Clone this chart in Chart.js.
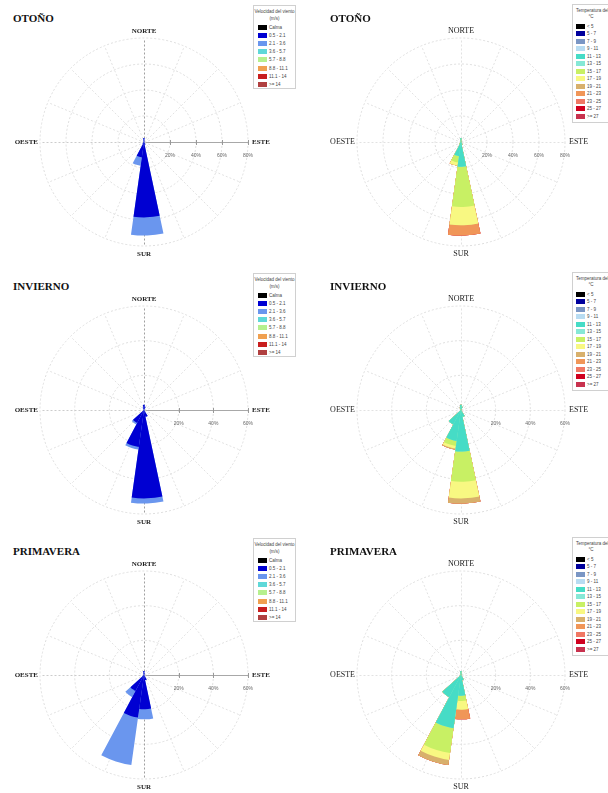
<!DOCTYPE html>
<html>
<head>
<meta charset="utf-8">
<script src="https://cdn.jsdelivr.net/npm/chart.js@4/dist/chart.umd.min.js"></script>
<style>
  html, body { margin: 0; padding: 0; background: #fff; }
  #pagina { position: relative; width: 608px; height: 793px; overflow: hidden; }
  .panel { position: absolute; width: 304px; height: 264px; }
  .panel canvas { position: absolute; left: 0; top: 0; }
  .titulo { position: absolute; font: bold 11px "Liberation Serif", serif; color: #111; white-space: nowrap; line-height: 12px; }
  .leyenda { position: absolute; border: 1px solid #d0d0d0; background: #fff; box-sizing: border-box;
             font-family: "Liberation Sans", Arial, sans-serif; color: #444; }
  .leyenda div { position: absolute; white-space: nowrap; }
  .leyenda .sw { width: 9px; height: 5px; }
  .leyenda .tx { font-size: 4.5px; line-height: 5px; }
</style>
</head>
<body>
<div id="pagina"></div>
<script>
// 18 sectores de 20°, desde el norte y en sentido horario
const DIRECCIONES = ['0°','20°','40°','60°','80°','100°','120°','140°','160°',
                     '180°','200°','220°','240°','260°','280°','300°','320°','340°'];

const CLASES_VEL = ['Calma','0.5 - 2.1','2.1 - 3.6','3.6 - 5.7','5.7 - 8.8','8.8 - 11.1','11.1 - 14','>= 14'];
const CLASES_TEMP = ['< 5','5 - 7','7 - 9','9 - 11','11 - 13','13 - 15','15 - 17','17 - 19',
                     '19 - 21','21 - 23','23 - 25','25 - 27','>= 27'];

const COLORES_VEL = ['#000000','#0000d2','#6a96ee','#5fd8d8','#b6f08e','#f0a050','#c81e1e','#b04040'];
const COLORES_TEMP = ['#000000','#00009c','#7a96c4','#b8dcf2','#46dcc6','#86e8d6','#c8f064','#f8f882',
                      '#d8b06c','#f09658','#f07864','#d0001e','#c8324e'];

// Anillos de frecuencia (%)
const ANILLOS_OTONO = [20, 40, 60, 80];
const ANILLOS_INVIERNO = [20, 40, 60];
const ANILLOS_PRIMAVERA = [20, 40, 60];

// Frecuencias (%) por clase de velocidad
const OTONO_V1 = [3.0, 1.0, 0.4, 0.3, 0.3, 0.3, 0.4, 0.6, 2.0, 58.0, 12.0, 1.5, 0.6, 0.4, 0.3, 0.3, 0.4, 1.2];
const OTONO_V2 = [0, 0, 0, 0, 0, 0, 0, 0, 0.3, 14.0, 6.5, 0.3, 0, 0, 0, 0, 0, 0];

const INVIERNO_V1 = [3.0, 2.0, 0.4, 0.3, 0.2, 0.2, 0.3, 0.6, 4.0, 51.0, 21.5, 8.5, 0.6, 0.3, 0.2, 0.2, 0.4, 1.5];
const INVIERNO_V2 = [0, 0, 0, 0, 0, 0, 0, 0, 0, 3.0, 1.5, 1.0, 0, 0, 0, 0, 0, 0];

const PRIMAVERA_V1 = [2.3, 1.0, 0.4, 0.3, 0.2, 0.2, 0.3, 0.6, 3.0, 19.8, 24.8, 10.5, 0.8, 0.3, 0.2, 0.2, 0.4, 1.0];
const PRIMAVERA_V2 = [0, 0, 0, 0, 0, 0, 0, 0, 0, 5.8, 27.7, 4.0, 0, 0, 0, 0, 0, 0];

// Frecuencias (%) por clase de temperatura (índice de clase en CLASES_TEMP)
const OTONO_T11_13 = [3.0, 1.0, 0.4, 0.3, 0.3, 0.3, 0.4, 0.6, 2.0, 19.0, 11.0, 1.5, 0.6, 0.4, 0.3, 0.3, 0.4, 1.2];
const OTONO_T15_17 = [0, 0, 0, 0, 0, 0, 0, 0, 0.3, 31.0, 5.0, 0.3, 0, 0, 0, 0, 0, 0];
const OTONO_T17_19 = [0, 0, 0, 0, 0, 0, 0, 0, 0, 14.0, 2.5, 0, 0, 0, 0, 0, 0, 0];
const OTONO_T21_23 = [0, 0, 0, 0, 0, 0, 0, 0, 0, 8.0, 0, 0, 0, 0, 0, 0, 0, 0];

const INVIERNO_T11_13 = [3.0, 2.0, 0.4, 0.3, 0.2, 0.2, 0.3, 0.6, 4.0, 24.0, 18.0, 9.5, 0.6, 0.3, 0.2, 0.2, 0.4, 1.5];
const INVIERNO_T15_17 = [0, 0, 0, 0, 0, 0, 0, 0, 0, 17.4, 3.0, 0, 0, 0, 0, 0, 0, 0];
const INVIERNO_T17_19 = [0, 0, 0, 0, 0, 0, 0, 0, 0, 9.6, 1.5, 0, 0, 0, 0, 0, 0, 0];
const INVIERNO_T19_21 = [0, 0, 0, 0, 0, 0, 0, 0, 0, 3.0, 0.5, 0, 0, 0, 0, 0, 0, 0];

const PRIMAVERA_T11_13 = [2.3, 1.0, 0.4, 0.3, 0.2, 0.2, 0.3, 0.6, 3.0, 12.0, 31.0, 14.5, 0.8, 0.3, 0.2, 0.2, 0.4, 1.0];
const PRIMAVERA_T15_17 = [0, 0, 0, 0, 0, 0, 0, 0, 0, 3.0, 14.5, 0, 0, 0, 0, 0, 0, 0];
const PRIMAVERA_T17_19 = [0, 0, 0, 0, 0, 0, 0, 0, 0, 5.0, 4.0, 0, 0, 0, 0, 0, 0, 0];
const PRIMAVERA_T19_21 = [0, 0, 0, 0, 0, 0, 0, 0, 0, 0, 3.0, 0, 0, 0, 0, 0, 0, 0];
const PRIMAVERA_T21_23 = [0, 0, 0, 0, 0, 0, 0, 0, 0, 5.6, 0, 0, 0, 0, 0, 0, 0, 0];

const TITULOS = ['OTOÑO', 'INVIERNO', 'PRIMAVERA'];
const ETIQUETAS_DIR = ['NORTE', 'ESTE', 'SUR', 'OESTE'];

// ---------------------------------------------------------------
const PANEL_W = 304, PANEL_H = 264, CY = 142, RADIO = 104;
const FILAS_TOP = [0, 268, 533];
const pagina = document.getElementById('pagina');

// Apila las clases: cada conjunto lleva la suma acumulada hasta su clase,
// y Chart.js dibuja el conjunto 0 encima de los demás.
function conjuntos(series, colores) {
  const acum = new Array(DIRECCIONES.length).fill(0);
  return series.map((serie, k) => ({
    data: DIRECCIONES.map((_, i) => (acum[i] += (serie ? serie[i] : 0))),
    backgroundColor: colores[k],
    borderWidth: 0
  }));
}

function decoracion(tipo) {
  return {
    id: 'decoracion',
    beforeDatasetsDraw(chart) {
      const s = chart.scales.r, ctx = chart.ctx;
      const cx = s.xCenter + 0.5, cy = s.yCenter + 0.5, R = s.drawingArea;
      ctx.save();
      ctx.lineWidth = 1;
      for (let k = 0; k < 16; k++) {
        const a = -Math.PI / 2 + k * Math.PI / 8;
        let color = '#e2e2e2', dash = [2, 2];
        if (tipo === 'vel') {
          if (k === 0 || k === 8) color = '#a0a0a0';
          if (k === 4) { color = '#a8a8a8'; dash = []; }
          if (k === 12) color = '#cccccc';
        }
        ctx.strokeStyle = color;
        ctx.setLineDash(dash);
        ctx.beginPath();
        ctx.moveTo(cx, cy);
        ctx.lineTo(cx + R * Math.cos(a), cy + R * Math.sin(a));
        ctx.stroke();
      }
      ctx.restore();
    },
    afterDatasetsDraw(chart) {
      const s = chart.scales.r, ctx = chart.ctx;
      const cx = s.xCenter, cy = s.yCenter;
      ctx.save();
      // marcas y etiquetas de los anillos sobre el eje este
      ctx.font = '5px "Liberation Sans", Arial, sans-serif';
      ctx.fillStyle = '#666';
      ctx.textAlign = 'center';
      ctx.textBaseline = 'middle';
      s.ticks.forEach(t => {
        if (t.value <= 0) return;
        const x = cx + s.getDistanceFromCenterForValue(t.value);
        if (tipo === 'vel') {
          ctx.strokeStyle = '#999';
          ctx.lineWidth = 1;
          ctx.beginPath();
          ctx.moveTo(Math.round(x) + 0.5, cy - 2);
          ctx.lineTo(Math.round(x) + 0.5, cy + 3);
          ctx.stroke();
        }
        ctx.fillText(t.label, x, cy + 13.5);
      });
      // puntos cardinales
      ctx.fillStyle = '#222';
      ctx.font = tipo === 'vel' ? 'bold 7px "Liberation Serif", serif' : '8px "Liberation Serif", serif';
      ctx.textAlign = 'center';
      ctx.fillText(ETIQUETAS_DIR[0], cx, cy - 111);
      ctx.fillText(ETIQUETAS_DIR[2], cx, cy + 112);
      ctx.textAlign = 'left';
      ctx.fillText(ETIQUETAS_DIR[1], cx + 108, cy);
      ctx.textAlign = 'right';
      ctx.fillText(ETIQUETAS_DIR[3], cx - 106, cy);
      ctx.restore();
    }
  };
}

function leyenda(panel, tipo) {
  const esVel = tipo === 'vel';
  const clases = esVel ? CLASES_VEL : CLASES_TEMP;
  const colores = esVel ? COLORES_VEL : COLORES_TEMP;
  const caja = document.createElement('div');
  caja.className = 'leyenda';
  const paso = esVel ? 8.2 : 7.5;
  if (esVel) {
    Object.assign(caja.style, { left: '253px', top: (CY - 137) + 'px', width: '43px', height: '84px' });
    caja.innerHTML =
      '<div class="tx" style="left:0;width:41px;text-align:center;top:3px">Velocidad del viento</div>' +
      '<div class="tx" style="left:0;width:41px;text-align:center;top:9.5px">(m/s)</div>';
  } else {
    Object.assign(caja.style, { left: '268px', top: (CY - 138) + 'px', width: '46px', height: '119px' });
    caja.innerHTML =
      '<div class="tx" style="left:3px;top:3px">Temperatura del aire</div>' +
      '<div class="tx" style="left:0;width:36px;text-align:center;top:9px">°C</div>';
  }
  clases.forEach((c, k) => {
    const y = (esVel ? 18.5 : 18.5) + k * paso;
    caja.innerHTML +=
      `<div class="sw" style="left:${esVel ? 4 : 3}px;top:${y}px;background:${colores[k]}"></div>` +
      `<div class="tx" style="left:${esVel ? 15 : 14}px;top:${y}px">${c}</div>`;
  });
  panel.appendChild(caja);
}

function rosa(fila, columna, tipo, series, anillos) {
  const panel = document.createElement('div');
  panel.className = 'panel';
  panel.style.left = (columna * PANEL_W) + 'px';
  panel.style.top = FILAS_TOP[fila] + 'px';
  pagina.appendChild(panel);

  const titulo = document.createElement('div');
  titulo.className = 'titulo';
  titulo.textContent = TITULOS[fila];
  titulo.style.left = (columna === 0 ? 13 : 26) + 'px';
  titulo.style.top = (CY - 130) + 'px';
  panel.appendChild(titulo);

  const canvas = document.createElement('canvas');
  canvas.width = PANEL_W;
  canvas.height = PANEL_H;
  panel.appendChild(canvas);
  leyenda(panel, tipo);

  const cx = columna === 0 ? 144 : 157;
  const colores = tipo === 'vel' ? COLORES_VEL.slice(1) : COLORES_TEMP;
  new Chart(canvas, {
    type: 'polarArea',
    data: { labels: DIRECCIONES, datasets: conjuntos(series, colores) },
    options: {
      responsive: false,
      animation: false,
      layout: { padding: { left: cx - RADIO, right: PANEL_W - cx - RADIO, top: CY - RADIO, bottom: PANEL_H - CY - RADIO } },
      plugins: { legend: { display: false }, tooltip: { enabled: false } },
      scales: {
        r: {
          min: 0,
          max: anillos[anillos.length - 1],
          startAngle: -12,
          ticks: { display: false, stepSize: anillos[0], callback: v => v + '%' },
          grid: { circular: true, color: '#dedede', lineWidth: 1 },
          border: { dash: [2, 2] },
          angleLines: { display: false },
          pointLabels: { display: false }
        }
      }
    },
    plugins: [decoracion(tipo)]
  });
}

// series de temperatura: una por clase de CLASES_TEMP (null = sin registros)
rosa(0, 0, 'vel', [OTONO_V1, OTONO_V2], ANILLOS_OTONO);
rosa(0, 1, 'temp', [null, null, null, null, OTONO_T11_13, null, OTONO_T15_17, OTONO_T17_19, null, OTONO_T21_23, null, null, null], ANILLOS_OTONO);
rosa(1, 0, 'vel', [INVIERNO_V1, INVIERNO_V2], ANILLOS_INVIERNO);
rosa(1, 1, 'temp', [null, null, null, null, INVIERNO_T11_13, null, INVIERNO_T15_17, INVIERNO_T17_19, INVIERNO_T19_21, null, null, null, null], ANILLOS_INVIERNO);
rosa(2, 0, 'vel', [PRIMAVERA_V1, PRIMAVERA_V2], ANILLOS_PRIMAVERA);
rosa(2, 1, 'temp', [null, null, null, null, PRIMAVERA_T11_13, null, PRIMAVERA_T15_17, PRIMAVERA_T17_19, PRIMAVERA_T19_21, PRIMAVERA_T21_23, null, null, null], ANILLOS_PRIMAVERA);
</script>
</body>
</html>
